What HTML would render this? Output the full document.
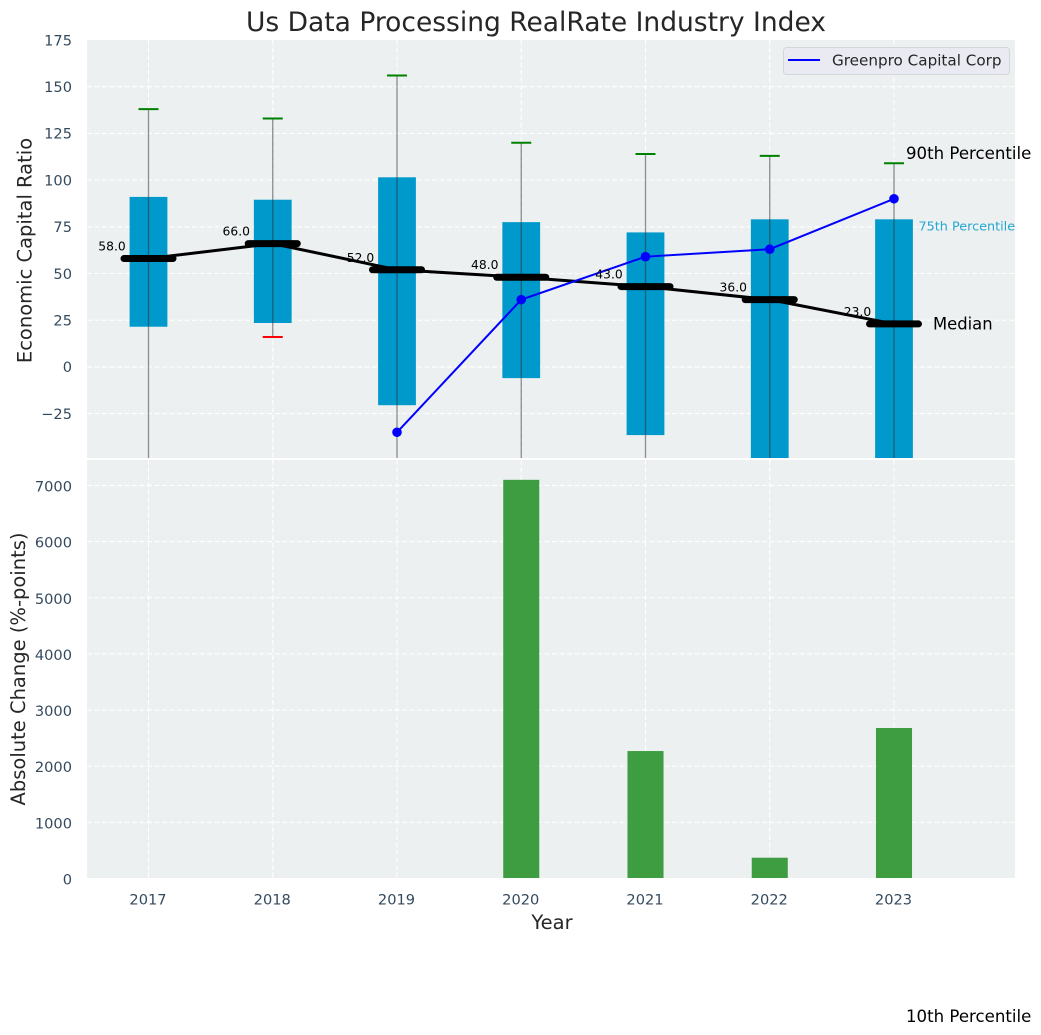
<!DOCTYPE html>
<html>
<head>
<meta charset="utf-8">
<title>Us Data Processing RealRate Industry Index</title>
<style>
html,body{margin:0;padding:0;background:#fff;}
svg{display:block;}
text{font-family:"DejaVu Sans","Liberation Sans",sans-serif;}
</style>
</head>
<body>
<svg id="chart" width="1041" height="1035" viewBox="0 0 1041 1035" xmlns="http://www.w3.org/2000/svg">
  <defs>
    <clipPath id="top-clip"><rect x="87" y="40" width="928" height="418"/></clipPath>
    <clipPath id="bottom-clip"><rect x="87" y="460" width="928" height="418"/></clipPath>
  </defs>
  <rect x="87" y="40" width="928" height="418" fill="#ecf0f1"/>
  <rect x="87" y="460" width="928" height="418" fill="#ecf0f1"/>
  <g id="top-grid"></g>
  <g id="bottom-grid"></g>
  <g id="top-marks" clip-path="url(#top-clip)"></g>
  <g id="bottom-marks" clip-path="url(#bottom-clip)"></g>
  <g id="labels"></g>
  <text x="536" y="31" font-size="26.5" fill="#262626" text-anchor="middle">Us Data Processing RealRate Industry Index</text>
  <text transform="translate(31.500,250.500) rotate(-90)" font-size="19.5" fill="#262626" text-anchor="middle">Economic Capital Ratio</text>
  <text transform="translate(25,669) rotate(-90)" font-size="19.5" fill="#262626" text-anchor="middle">Absolute Change (%-points)</text>
  <text x="552" y="929" font-size="19.5" fill="#262626" text-anchor="middle">Year</text>
  <g>
    <rect x="783.500" y="47.500" width="226" height="27" rx="3" fill="#eaeaf2" stroke="#d6d6d6"/>
    <line x1="788" x2="820" y1="60" y2="60" stroke="#0000ff" stroke-width="2"/>
    <text x="832" y="65.500" font-size="15.2" fill="#262626">Greenpro Capital Corp</text>
  </g>
</svg>
<script>
const years = ["2017", "2018", "2019", "2020", "2021", "2022", "2023"];
const q90 = [138, 133, 156, 120, 114, 113, 109];
const q75 = [91, 89.500, 101.500, 77.500, 72, 79, 79];
const medians = [58, 66, 52, 48, 43, 36, 23];
const q25 = [21.500, 23.500, -20.500, -6, -36.500, -90, -120];
const q10 = [-80, 16, -90, -60, -120, -200, -350];
const company = [null, null, -35, 36, 59, 63, 90];
const absoluteChange = [null, null, null, 7100, 2270, 370, 2680];
const topTicks = [175, 150, 125, 100, 75, 50, 25, 0, -25];
const bottomTicks = [7000, 6000, 5000, 4000, 3000, 2000, 1000, 0];

const NS = 'http://www.w3.org/2000/svg';
function xPos(i) { return 148.5 + i * 124.25; }
function yTop(v) { return 366.9 - v * 1.868; }
function yBottom(v) { return 878.5 - v * 0.05615; }
function make(parent, tag, attrs, txt) {
  const el = document.createElementNS(NS, tag);
  for (const k in attrs) el.setAttribute(k, attrs[k]);
  if (txt !== undefined) el.textContent = txt;
  parent.appendChild(el);
  return el;
}
const topGrid = document.getElementById('top-grid');
const bottomGrid = document.getElementById('bottom-grid');
const topMarks = document.getElementById('top-marks');
const bottomMarks = document.getElementById('bottom-marks');
const labels = document.getElementById('labels');
const gridStyle = { stroke: '#ffffff', 'stroke-width': 1.1, 'stroke-dasharray': '5 2.5' };

topTicks.forEach(function (t) {
  const y = yTop(t);
  if (t < 175) {
    const g = make(topGrid, 'line', Object.assign({ x1: 87, x2: 1015, y1: y, y2: y }, gridStyle));
    
    
  }
  const s = make(labels, 'text', { x: 72, y: y + 5.3, 'font-size': 14.6, fill: '#34495e', 'text-anchor': 'end' }, String(t).replace('-', '\u2212'));
  
  
});
bottomTicks.forEach(function (t) {
  const y = yBottom(t);
  const g = make(bottomGrid, 'line', Object.assign({ x1: 87, x2: 1015, y1: y, y2: y }, gridStyle));
  
  
  const s = make(labels, 'text', { x: 72, y: y + 6, 'font-size': 14.6, fill: '#34495e', 'text-anchor': 'end' }, String(t));
  
  
});
years.forEach(function (yr, i) {
  const x = xPos(i);
  const g1 = make(topGrid, 'line', Object.assign({ x1: x, x2: x, y1: 40, y2: 458 }, gridStyle));
  
  
  const g2 = make(bottomGrid, 'line', Object.assign({ x1: x, x2: x, y1: 460, y2: 878 }, gridStyle));
  
  
  const s = make(labels, 'text', { x: x - 0.5, y: 904.5, 'font-size': 14.6, fill: '#34495e', 'text-anchor': 'middle' }, yr);
  
  
});

years.forEach(function (yr, i) {
  const x = xPos(i);
  const hw = 0.152 * 124.25;
  const box = make(topMarks, 'rect', { x: x - hw, y: yTop(q75[i]), width: hw * 2, height: yTop(q25[i]) - yTop(q75[i]), fill: '#0099cc' });
  
  
});
years.forEach(function (yr, i) {
  const x = xPos(i);
  const w = make(topMarks, 'line', { x1: x, x2: x, y1: yTop(q90[i]), y2: yTop(q10[i]), stroke: '#333333', 'stroke-opacity': 0.55, 'stroke-width': 1.3 });
  
  
  const c1 = make(topMarks, 'line', { x1: x - 10, x2: x + 10, y1: yTop(q90[i]), y2: yTop(q90[i]), stroke: '#008000', 'stroke-width': 2 });
  
  
  const c2 = make(topMarks, 'line', { x1: x - 10, x2: x + 10, y1: yTop(q10[i]), y2: yTop(q10[i]), stroke: '#ff0000', 'stroke-width': 2 });
  
  
});

const medianPts = medians.map(function (v, i) { return xPos(i) + ',' + yTop(v); }).join(' ');
const medianLine = make(topMarks, 'polyline', { points: medianPts, fill: 'none', stroke: '#000000', 'stroke-width': 3 });


medians.forEach(function (v, i) {
  const x = xPos(i);
  const m = make(topMarks, 'line', { x1: x - 24.5, x2: x + 24.5, y1: yTop(v), y2: yTop(v), stroke: '#000000', 'stroke-width': 7, 'stroke-linecap': 'round' });
  
  
});

const companyPts = [];
company.forEach(function (v, i) { if (v !== null) companyPts.push(xPos(i) + ',' + yTop(v)); });
const companyLine = make(topMarks, 'polyline', { points: companyPts.join(' '), fill: 'none', stroke: '#0000ff', 'stroke-width': 2 });


company.forEach(function (v, i) {
  if (v === null) return;
  const d = make(topMarks, 'circle', { cx: xPos(i), cy: yTop(v), r: 4.8, fill: '#0000ff' });
  
  
});

medians.forEach(function (v, i) {
  const t = make(labels, 'text', { x: xPos(i) - 36.5, y: yTop(v) - 8, 'font-size': 12.3, fill: '#000000', 'text-anchor': 'middle' }, v.toFixed(1));
  
  
});

absoluteChange.forEach(function (v, i) {
  if (v === null) return;
  const hw = 0.145 * 124.25;
  const b = make(bottomMarks, 'rect', { x: xPos(i) - hw, y: yBottom(v), width: hw * 2, height: yBottom(0) - yBottom(v), fill: '#2a942c', 'fill-opacity': 0.9 });
  
  
});

const last = years.length - 1;
const p90Label = make(labels, 'text', { x: xPos(last) + 12, y: yTop(q90[last]) - 4.5, 'font-size': 16.6, fill: '#000000' }, '90th Percentile');


const p75Label = make(labels, 'text', { x: xPos(last) + 24.5, y: yTop(q75[last]) + 11.3, 'font-size': 12.8, fill: '#0099cc', 'fill-opacity': 0.85 }, '75th Percentile');


const medLabel = make(labels, 'text', { x: xPos(last) + 39, y: yTop(medians[last]) + 5.5, 'font-size': 16.4, fill: '#000000' }, 'Median');


const p10Label = make(labels, 'text', { x: xPos(last) + 12, y: yTop(q10[last]) + 1.5, 'font-size': 16.6, fill: '#000000' }, '10th Percentile');


</script>
</body>
</html>
